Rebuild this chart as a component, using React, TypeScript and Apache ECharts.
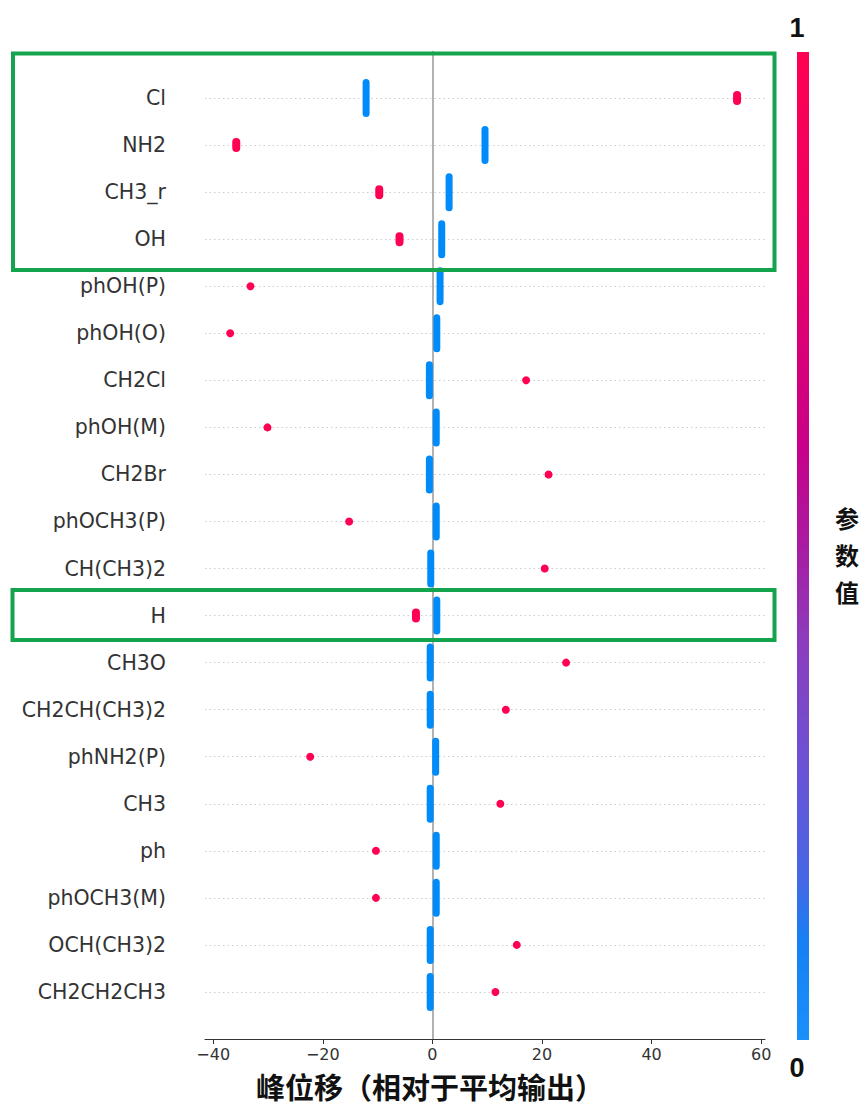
import React, { useEffect, useRef } from "react";
import * as echarts from "echarts";

// Features, top to bottom
const features = [
  "Cl", "NH2", "CH3_r", "OH", "phOH(P)", "phOH(O)", "CH2Cl", "phOH(M)", "CH2Br",
  "phOCH3(P)", "CH(CH3)2", "H", "CH3O", "CH2CH(CH3)2", "phNH2(P)", "CH3", "ph",
  "phOCH3(M)", "OCH(CH3)2", "CH2CH2CH3",
];
// SHAP value of the stacked low-parameter (blue) samples
const lowValueShap = [
  -12.1, 9.6, 3.05, 1.7, 1.4, 0.8, -0.55, 0.7, -0.55, 0.7, -0.3, 0.8, -0.4, -0.4,
  0.6, -0.4, 0.7, 0.7, -0.4, -0.4,
];
// SHAP value of the high-parameter (red) sample
const highValueShap = [
  55.6, -35.8, -9.7, -6.0, -33.2, -36.9, 17.1, -30.1, 21.2, -15.2, 20.5, -3.0, 24.4,
  13.4, -22.3, 12.4, -10.3, -10.3, 15.4, 11.5,
];
const xTicks = [-40, -20, 0, 20, 40, 60];
const colorbarTop = "1";
const colorbarBottom = "0";
const xTitle = "峰位移（相对于平均输出）";
const colorbarTitle = "参数值";

// style config
const stackedRed = new Set(["Cl", "NH2", "CH3_r", "OH", "H"]);
const BLUE = "#008bfb";
const RED = "#ff0052";

function capsule(w: number, h: number) {
  const r = w / 2;
  return `path://M0,${r} A${r},${r} 0 0 1 ${w},${r} L${w},${h - r} A${r},${r} 0 0 1 0,${h - r} Z`;
}

export default function App() {
  const ref = useRef<HTMLDivElement>(null);
  useEffect(() => {
    if (!ref.current) return;
    const chart = echarts.init(ref.current, undefined, { renderer: "svg" });
    const blueData = features.map((f, i) => [lowValueShap[i], i]);
    const redData = features.map((f, i) => {
      const tall = stackedRed.has(f);
      return {
        value: [highValueShap[i], i],
        symbol: tall ? capsule(8, 14) : "circle",
        symbolSize: tall ? [8, 14] : 8,
      };
    });
    const option: any = {
      animation: false,
      backgroundColor: "#ffffff",
      grid: { left: 205, right: 98, top: 51, bottom: 69 },
      xAxis: {
        type: "value",
        min: -41.5,
        max: 60.7,
        splitLine: { show: false },
        axisLine: { show: true, onZero: false, lineStyle: { color: "#333", width: 1 } },
        axisTick: {
          show: true,
          length: 5,
          customValues: xTicks,
          lineStyle: { color: "#333", width: 1 },
        },
        axisLabel: {
          customValues: xTicks,
          margin: 7,
          fontFamily: "DejaVu Sans",
          fontSize: 16,
          color: "#333",
          formatter: (v: number) => (v < 0 ? "\u2212" + Math.abs(v) : String(v)),
        },
      },
      yAxis: {
        type: "value",
        inverse: true,
        min: -1,
        max: 20,
        interval: 1,
        splitLine: { show: false },
        axisLine: { show: false, onZero: false },
        axisTick: { show: false },
        axisLabel: {
          margin: 39,
          fontFamily: "DejaVu Sans",
          fontSize: 20.5,
          color: "#333",
          formatter: (v: number) => features[v] ?? "",
        },
      },
      series: [
        {
          type: "scatter",
          data: [],
          z: 1,
          zlevel: 0,
          silent: true,
          markLine: {
            z: 1,
            silent: true,
            symbol: "none",
            label: { show: false },
            animation: false,
            data: [
              ...features.map((_, i) => ({
                yAxis: i,
                lineStyle: { color: "#cccccc", type: [1.5, 3], width: 1 },
              })),
              { xAxis: 0, lineStyle: { color: "#999999", type: "solid", width: 1.5 } },
            ],
          },
        },
        {
          type: "scatter",
          z: 6,
          data: blueData,
          symbol: capsule(7, 38),
          symbolSize: [7, 38],
          itemStyle: { color: BLUE, opacity: 1 },
        },
        {
          type: "scatter",
          z: 7,
          data: redData,
          itemStyle: { color: RED, opacity: 1 },
        },
      ],
      graphic: [
        {
          type: "rect",
          z: 100,
          shape: { x: 13, y: 53.5, width: 761.5, height: 216.5 },
          style: { fill: "none", stroke: "#14a44d", lineWidth: 4 },
        },
        {
          type: "rect",
          z: 100,
          shape: { x: 12.5, y: 590, width: 762, height: 50 },
          style: { fill: "none", stroke: "#14a44d", lineWidth: 4 },
        },
        {
          type: "rect",
          z: 50,
          shape: { x: 797, y: 52, width: 12, height: 988 },
          style: {
            fill: new echarts.graphic.LinearGradient(0, 0, 0, 1, [
              { offset: 0, color: "#ff0052" },
              { offset: 0.2, color: "#eb0066" },
              { offset: 0.4, color: "#c8008a" },
              { offset: 0.5, color: "#a81ca2" },
              { offset: 0.6, color: "#8c3cbe" },
              { offset: 0.72, color: "#6c52d4" },
              { offset: 0.84, color: "#4468e6" },
              { offset: 0.9, color: "#1680f4" },
              { offset: 1, color: "#1a90fa" },
            ]),
          },
        },
        {
          type: "text",
          z: 100,
          x: 797,
          y: 28,
          style: {
            text: colorbarTop,
            align: "center",
            verticalAlign: "middle",
            font: "bold 27px 'Liberation Sans', Arial, sans-serif",
            fill: "#111",
          },
        },
        {
          type: "text",
          z: 100,
          x: 797,
          y: 1068,
          style: {
            text: colorbarBottom,
            align: "center",
            verticalAlign: "middle",
            font: "bold 27px 'Liberation Sans', Arial, sans-serif",
            fill: "#111",
          },
        },
        {
          type: "text",
          z: 100,
          x: 847,
          y: 554,
          style: {
            text: colorbarTitle.split("").join("\n"),
            align: "center",
            verticalAlign: "middle",
            lineHeight: 37,
            font: "bold 24px 'Noto Sans CJK SC', sans-serif",
            fill: "#111",
          },
        },
        {
          type: "text",
          z: 100,
          x: 430,
          y: 1086,
          style: {
            text: xTitle,
            align: "center",
            verticalAlign: "middle",
            font: "bold 29px 'Noto Sans CJK SC', sans-serif",
            fill: "#111",
          },
        },
      ],
    };
    chart.setOption(option);
    return () => chart.dispose();
  }, []);
  return (
    <div
      ref={ref}
      style={{ position: "fixed", left: 0, top: 0, width: 863, height: 1108, background: "#fff" }}
    />
  );
}
